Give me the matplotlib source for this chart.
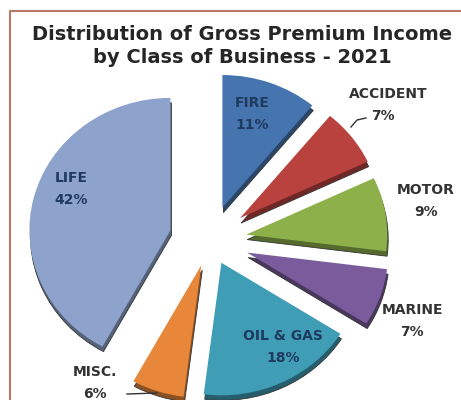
import numpy as np
import matplotlib.pyplot as plt
import matplotlib.colors as mcolors

# Gross premium income share by class of business, 2021 (%)
classes = ["FIRE", "ACCIDENT", "MOTOR", "MARINE", "OIL & GAS", "MISC.", "LIFE"]
shares = [11, 7, 9, 7, 18, 6, 42]
explode = [0.26, 0.27, 0.26, 0.28, 0.19, 0.20, 0.29]
colors = ["#4674ae", "#b9423f", "#8db04a", "#7a5c9c", "#3f9db6", "#e8873a", "#8ea3cc"]

W, H = 461, 400
SY = 0.94  # vertical squash of the tilted pie


def Y(y_img):
    """image pixel row -> data y (axes are squashed vertically)"""
    return (H - y_img) / SY


fig = plt.figure(figsize=(W / 100, H / 100), dpi=100)
ax = fig.add_axes([0, 0, 1, 1])

cx, cy, r = 210, Y(240), 141
expl_px = [e * r for e in explode]  # pie wants explode in data units

# darker copy shifted down to fake the 3D slice thickness
dark = [tuple(c * 0.6 for c in mcolors.to_rgb(col)) for col in colors]
ax.pie(shares, explode=expl_px, colors=dark, startangle=90, counterclock=False,
       center=(cx + 1, cy - 5 / SY), radius=r,
       wedgeprops=dict(edgecolor="#333333", linewidth=0.6))
ax.pie(shares, explode=expl_px, colors=colors, startangle=90, counterclock=False,
       center=(cx, cy), radius=r,
       wedgeprops=dict(edgecolor=None, linewidth=0))

ax.set_aspect("auto")
ax.set_xlim(0, W)
ax.set_ylim(0, H / SY)
ax.axis("off")

# chart frame (left and top edge of the original chart area)
ax.plot([10, 10, W], [0, Y(11), Y(11)], color="#b87a64", lw=1.5, clip_on=False)

ax.text(242, Y(34), "Distribution of Gross Premium Income", ha="center", va="center",
        fontsize=14, fontweight="bold", color="#262626")
ax.text(242, Y(57), "by Class of Business - 2021", ha="center", va="center",
        fontsize=14, fontweight="bold", color="#262626")

inside = "#1f3a5f"
outside = "#333333"
label_pos = {
    "FIRE": (252, 103, inside),
    "ACCIDENT": (388, 94, outside),
    "MOTOR": (426, 190, outside),
    "MARINE": (412, 310, outside),
    "OIL & GAS": (283, 336, inside),
    "MISC.": (95, 372, outside),
    "LIFE": (71, 178, inside),
}
for name, val in zip(classes, shares):
    x, y, col = label_pos[name]
    px = x - 5 if name == "ACCIDENT" else x
    ax.text(x, Y(y), name, ha="center", va="center", fontsize=10,
            fontweight="bold", color=col)
    ax.text(px, Y(y + 22), f"{val}%", ha="center", va="center", fontsize=10,
            fontweight="bold", color=col)

# leader lines
ax.plot([351, 357, 366], [Y(127), Y(120), Y(118)], color="#333333", lw=1)
ax.plot([127, 157], [Y(394), Y(393)], color="#333333", lw=1)

fig.savefig("out.png", dpi=100)
